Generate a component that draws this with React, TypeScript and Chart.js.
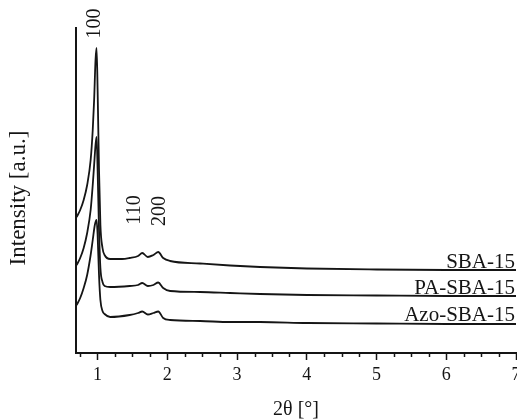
import React, { useEffect, useRef } from "react";
import { Chart, registerables } from "chart.js";

Chart.register(...registerables);

// 2θ positions (degrees)
const xSBA = [0.7, 0.75, 0.8, 0.85, 0.9, 0.93, 0.95, 0.97, 0.985, 1.0, 1.02, 1.04, 1.07, 1.1, 1.18, 1.35, 1.46, 1.58, 1.64, 1.72, 1.8, 1.87, 1.94, 2.04, 2.47, 2.9, 3.33, 4, 5, 6, 7];
const ySBA = [136, 143, 153, 168, 193, 223, 253, 293, 305, 263, 183, 128, 105, 98, 94, 94, 95, 97, 100, 96, 98, 101, 95, 92, 89.5, 87.5, 86, 84.5, 83.5, 83, 83];

const xPA = [0.7, 0.75, 0.8, 0.85, 0.9, 0.93, 0.95, 0.97, 0.985, 1.0, 1.02, 1.04, 1.07, 1.1, 1.18, 1.46, 1.58, 1.64, 1.72, 1.8, 1.87, 1.94, 2.04, 2.47, 2.9, 3.33, 4, 5, 6, 7];
const yPA = [88, 95, 105, 120, 143, 168, 188, 208, 216, 183, 123, 85, 71, 67, 66, 67, 68, 70, 67, 68, 70.5, 65, 62, 61, 60, 59, 58, 57.5, 57, 57];

const xAzo = [0.7, 0.75, 0.8, 0.85, 0.9, 0.93, 0.96, 0.985, 1.0, 1.02, 1.04, 1.07, 1.1, 1.18, 1.46, 1.58, 1.64, 1.72, 1.8, 1.87, 1.94, 2.04, 2.47, 2.9, 3.33, 4, 5, 6, 7];
const yAzo = [48, 55, 65, 78, 98, 113, 128, 133, 118, 78, 53, 42, 39, 36, 38, 40, 41.5, 38.5, 40, 41.5, 35, 33, 32, 31, 31, 30, 29.5, 29, 29];

const seriesNames = ["SBA-15", "PA-SBA-15", "Azo-SBA-15"];
const seriesLabelLevels = [85, 59, 32];

const reflexLabels = ["100", "110", "200"];
const reflexX = [0.955, 1.536, 1.896];
const reflexY = [329.5, 143, 142];

const majorTicks = [1, 2, 3, 4, 5, 6, 7];
const minorTicks = [0.75, 1.25, 1.5, 1.75, 2.25, 2.5, 2.75, 3.25, 3.5, 3.75, 4.25, 4.5, 4.75, 5.25, 5.5, 5.75, 6.25, 6.5, 6.75];

const X_MIN = 0.69;
const X_MAX = 7;
const Y_MIN = 0;
const Y_MAX = 325;

const FONT = '"Liberation Serif", "Times New Roman", serif';
const INK = "#151515";

const toPoints = (xs: number[], ys: number[]) => xs.map((x, i) => ({ x, y: ys[i] }));

const overlayPlugin = {
  id: "overlay",
  afterDraw(chart: any) {
    const { ctx, chartArea } = chart;
    const x = chart.scales.x;
    const y = chart.scales.y;
    ctx.save();
    // minor ticks
    ctx.strokeStyle = INK;
    ctx.lineWidth = 1.5;
    minorTicks.forEach((v) => {
      const px = Math.round(x.getPixelForValue(v)) + 0.5;
      ctx.beginPath();
      ctx.moveTo(px, chartArea.bottom);
      ctx.lineTo(px, chartArea.bottom + 4);
      ctx.stroke();
    });
    // series labels
    ctx.fillStyle = INK;
    ctx.font = `21px ${FONT}`;
    ctx.textAlign = "right";
    ctx.textBaseline = "alphabetic";
    seriesNames.forEach((t, i) => {
      ctx.fillText(t, chartArea.right - 1, y.getPixelForValue(seriesLabelLevels[i]));
    });
    // reflex labels (rotated)
    ctx.font = `20px ${FONT}`;
    ctx.textAlign = "center";
    ctx.textBaseline = "middle";
    reflexLabels.forEach((t, i) => {
      ctx.save();
      ctx.translate(x.getPixelForValue(reflexX[i]), y.getPixelForValue(reflexY[i]));
      ctx.rotate(-Math.PI / 2);
      ctx.fillText(t, 0, 0);
      ctx.restore();
    });
    // y axis title
    ctx.font = `23px ${FONT}`;
    ctx.save();
    ctx.translate(19, 198);
    ctx.rotate(-Math.PI / 2);
    ctx.fillText("Intensity [a.u.]", 0, 0);
    ctx.restore();
    ctx.restore();
  },
};

export default function App() {
  const canvasRef = useRef<HTMLCanvasElement | null>(null);

  useEffect(() => {
    if (!canvasRef.current) return;
    const lineStyle = {
      borderColor: INK,
      borderWidth: 1.8,
      pointRadius: 0,
      fill: false,
      cubicInterpolationMode: "monotone" as const,
    };
    const chart = new Chart(canvasRef.current, {
      type: "line",
      data: {
        datasets: [
          { label: seriesNames[0], data: toPoints(xSBA, ySBA), ...lineStyle },
          { label: seriesNames[1], data: toPoints(xPA, yPA), ...lineStyle },
          { label: seriesNames[2], data: toPoints(xAzo, yAzo), ...lineStyle },
        ],
      },
      options: {
        responsive: false,
        animation: false,
        devicePixelRatio: 1,
        layout: { padding: { top: 28, right: 1, bottom: 0, left: 0 } },
        plugins: {
          legend: { display: false },
          tooltip: { enabled: false },
          title: { display: false },
        },
        scales: {
          x: {
            type: "linear",
            min: X_MIN,
            max: X_MAX,
            afterBuildTicks: (axis: any) => {
              axis.ticks = majorTicks.map((v) => ({ value: v }));
            },
            afterFit: (axis: any) => {
              axis.height = 67;
              axis.paddingLeft = 0;
              axis.paddingRight = 0;
            },
            ticks: {
              color: INK,
              font: { family: FONT, size: 18 },
              padding: 4,
              maxRotation: 0,
              autoSkip: false,
              callback: (v: any) => String(v),
            },
            grid: {
              display: true,
              drawOnChartArea: false,
              drawTicks: true,
              tickLength: 7,
              tickWidth: 1.5,
              tickColor: INK,
              color: INK,
            },
            border: { display: true, color: INK, width: 2 },
            title: {
              display: true,
              text: "2θ [°]",
              color: INK,
              font: { family: FONT, size: 20, lineHeight: 1 },
              padding: { top: 0, bottom: 0 },
            },
          },
          y: {
            type: "linear",
            min: Y_MIN,
            max: Y_MAX,
            afterFit: (axis: any) => {
              axis.width = 76;
              axis.paddingTop = 0;
              axis.paddingBottom = 0;
            },
            ticks: { display: false },
            grid: { display: false, drawTicks: false },
            border: { display: true, color: INK, width: 2 },
            title: { display: false },
          },
        },
      },
      plugins: [overlayPlugin],
    });
    return () => chart.destroy();
  }, []);

  return (
    <div style={{ position: "fixed", left: 0, top: 0, width: 517, height: 420, background: "#fff" }}>
      <canvas ref={canvasRef} width={517} height={420} />
    </div>
  );
}
